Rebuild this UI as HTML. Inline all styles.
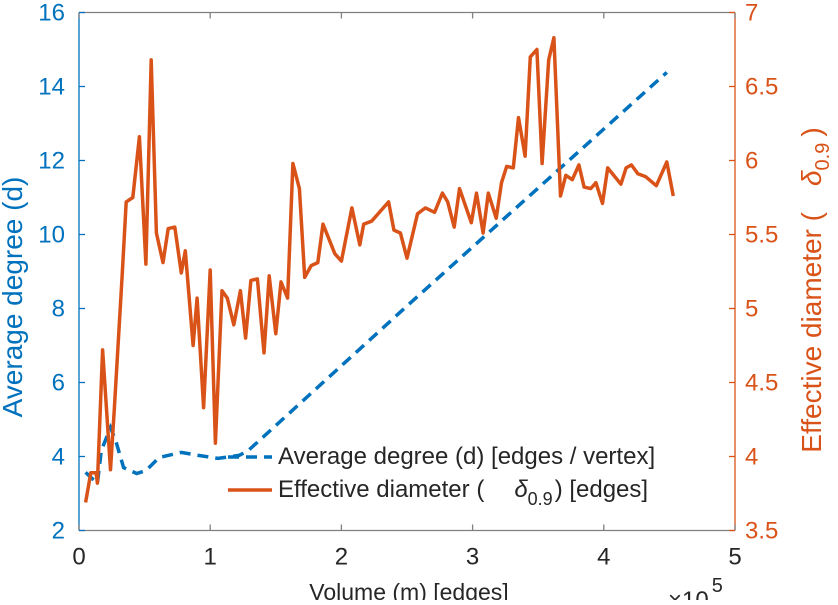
<!DOCTYPE html>
<html><head><meta charset="utf-8"><style>
body{margin:0;background:#fff;}
svg text{font-family:"Liberation Sans",sans-serif;}
</style></head><body>
<svg id="chart" width="838" height="600" viewBox="0 0 838 600" xmlns="http://www.w3.org/2000/svg">
<g id="axes"></g>
<g id="series"></g>
<g id="legend">
  <line x1="228" y1="457" x2="272" y2="457" stroke="#0072BD" stroke-width="3.5" stroke-dasharray="11,7"/>
  <text x="278" y="464" font-size="24" fill="#262626">Average degree (d) [edges / vertex]</text>
  <line x1="228" y1="490" x2="272" y2="490" stroke="#D95319" stroke-width="3.5"/>
  <text x="278" y="497" font-size="24" fill="#262626">Effective diameter (<tspan dx="30" font-style="italic">δ</tspan><tspan font-size="18" dy="8">0.9</tspan><tspan dy="-8" dx="2">) [edges]</tspan></text>
</g>
</svg>
<script>
const xTicks=[0,1,2,3,4,5];
const leftTicks=[2,4,6,8,10,12,14,16];
const rightTicks=[3.5,4,4.5,5,5.5,6,6.5,7];
const rightTickLabels=["3.5","4","4.5","5","5.5","6","6.5","7"];
const degX=[0.05,0.14,0.17,0.24,0.28,0.34,0.44,0.51,0.61,0.78,0.91,1.06,1.22,1.29,2.51,4.48];
const degY=[3.57,3.27,4.16,4.78,4.43,3.70,3.54,3.62,3.97,4.11,4.03,3.95,4.03,4.16,8.1,14.38];
const diaX=[0.05,0.09,0.13,0.14,0.18,0.24,0.27,0.33,0.36,0.41,0.46,0.51,0.55,0.59,0.64,0.68,0.73,0.78,0.81,0.87,0.90,0.95,1.00,1.04,1.09,1.13,1.18,1.23,1.27,1.31,1.36,1.41,1.45,1.50,1.54,1.59,1.63,1.68,1.72,1.77,1.82,1.86,1.95,2.00,2.08,2.14,2.17,2.23,2.36,2.40,2.45,2.50,2.58,2.64,2.71,2.77,2.81,2.86,2.90,2.99,3.03,3.08,3.12,3.18,3.22,3.26,3.31,3.35,3.40,3.44,3.49,3.53,3.58,3.62,3.67,3.71,3.76,3.81,3.85,3.90,3.94,3.99,4.03,4.13,4.17,4.21,4.26,4.32,4.40,4.48,4.53];
const diaY=[3.69,3.89,3.89,3.82,4.72,3.91,4.33,5.24,5.72,5.75,6.16,5.30,6.68,5.51,5.31,5.54,5.55,5.24,5.39,4.75,5.07,4.33,5.26,4.09,5.12,5.07,4.89,5.12,4.80,5.19,5.20,4.70,5.22,4.83,5.18,5.07,5.98,5.81,5.21,5.29,5.31,5.57,5.37,5.32,5.68,5.43,5.57,5.59,5.72,5.53,5.51,5.34,5.64,5.68,5.65,5.78,5.72,5.55,5.81,5.58,5.78,5.51,5.78,5.61,5.85,5.96,5.95,6.29,6.03,6.70,6.75,5.98,6.68,6.83,5.76,5.90,5.87,5.97,5.82,5.81,5.85,5.71,5.95,5.84,5.95,5.97,5.91,5.89,5.83,5.99,5.76];

const L=79,R=735,T=12.5,B=530.5;
const sx=v=>L+(v-0)/5*(R-L);
const syL=v=>B-(v-2)/14*(B-T);
const syR=v=>B-(v-3.5)/3.5*(B-T);
const NS="http://www.w3.org/2000/svg";
function mk(tag,attrs,parent){const e=document.createElementNS(NS,tag);for(const k in attrs)e.setAttribute(k,attrs[k]);parent.appendChild(e);return e;}
const axes=document.getElementById('axes');
const series=document.getElementById('series');
const BLUE="#0072BD",ORANGE="#D95319",GRAY="#262626";

let ln=mk('line',{x1:L,y1:T,x2:R,y2:T,stroke:"#808080","stroke-width":1.3},axes);


ln=mk('line',{x1:L,y1:B,x2:R,y2:B,stroke:"#808080","stroke-width":1.3},axes);


ln=mk('line',{x1:L,y1:T,x2:L,y2:B,stroke:BLUE,"stroke-width":1.3},axes);


ln=mk('line',{x1:R,y1:T,x2:R,y2:B,stroke:ORANGE,"stroke-width":1.3},axes);



xTicks.forEach(v=>{
  const x=sx(v);
  let t=mk('line',{x1:x,y1:B,x2:x,y2:B-6,stroke:"#808080","stroke-width":1.3},axes);
  
  
  t=mk('line',{x1:x,y1:T,x2:x,y2:T+6,stroke:"#808080","stroke-width":1.3},axes);
  
  
  const tx=mk('text',{x:x,y:B+34,"font-size":24,fill:GRAY,"text-anchor":"middle"},axes);
  tx.textContent=String(v);
  
  
});
leftTicks.forEach(v=>{
  const y=syL(v);
  const t=mk('line',{x1:L,y1:y,x2:L+6,y2:y,stroke:BLUE,"stroke-width":1.3},axes);
  
  
  const tx=mk('text',{x:L-14,y:y+8,"font-size":24,fill:BLUE,"text-anchor":"end"},axes);
  tx.textContent=String(v);
  
  
});
rightTicks.forEach((v,i)=>{
  const y=syR(v);
  const t=mk('line',{x1:R,y1:y,x2:R-6,y2:y,stroke:ORANGE,"stroke-width":1.3},axes);
  
  
  const tx=mk('text',{x:R+10,y:y+8,"font-size":24,fill:ORANGE,"text-anchor":"start"},axes);
  tx.textContent=rightTickLabels[i];
  
  
});
let lab=mk('text',{x:0,y:0,"font-size":28,fill:BLUE,"text-anchor":"middle",transform:"translate(22,297) rotate(-90)"},axes);
lab.textContent="Average degree (d)";


lab=mk('text',{x:0,y:0,"font-size":28,fill:ORANGE,"text-anchor":"middle",transform:"translate(821,290) rotate(-90)"},axes);
lab.innerHTML='Effective diameter (<tspan dx="26" font-style="italic">δ</tspan><tspan font-size="20" dy="8">0.9</tspan><tspan dy="-8" dx="6">)</tspan>';


lab=mk('text',{x:409,y:600,"font-size":23,fill:GRAY,"text-anchor":"middle"},axes);
lab.textContent="Volume (m) [edges]";


lab=mk('text',{x:668,y:608,"font-size":24,fill:GRAY},axes);
lab.innerHTML='×10<tspan font-size="20" dy="-16" dx="3">5</tspan>';



const degPts=degX.map((v,i)=>sx(v).toFixed(1)+","+syL(degY[i]).toFixed(1)).join(" ");
const p1=mk('polyline',{points:degPts,fill:"none",stroke:BLUE,"stroke-width":3.5,"stroke-dasharray":"11,7"},series);


const diaPts=diaX.map((v,i)=>sx(v).toFixed(1)+","+syR(diaY[i]).toFixed(1)).join(" ");
const p2=mk('polyline',{points:diaPts,fill:"none",stroke:ORANGE,"stroke-width":3.5,"stroke-linejoin":"round"},series);


</script>
</body></html>
